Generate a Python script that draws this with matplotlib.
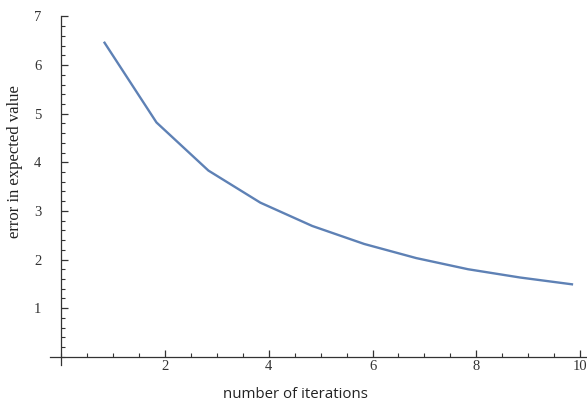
import matplotlib
matplotlib.use("Agg")
import matplotlib.pyplot as plt
from matplotlib.ticker import MultipleLocator

# data
iterations = [0.84, 1.84, 2.84, 3.84, 4.84, 5.84, 6.84, 7.84, 8.84, 9.84]
error = [6.46, 4.82, 3.83, 3.17, 2.69, 2.32, 2.03, 1.80, 1.63, 1.49]
x_ticks = [2, 4, 6, 8, 10]
y_ticks = [1, 2, 3, 4, 5, 6, 7]

fig = plt.figure(figsize=(5.87, 4.03), dpi=100)
ax = fig.add_axes([0.0852, 0.0943, 0.9148, 0.8648])

ax.plot(iterations, error, color="#5E81B5", lw=1.7, solid_joinstyle="round")

ax.set_xlim(-0.21, 10.13)
ax.set_ylim(-0.17, 7.0)

for s in ["top", "right"]:
    ax.spines[s].set_visible(False)
ax.spines["left"].set_position(("data", 0))
ax.spines["bottom"].set_position(("data", 0))
for s in ["left", "bottom"]:
    ax.spines[s].set_color("#333333")
    ax.spines[s].set_linewidth(0.9)

ax.set_xticks(x_ticks)
ax.set_yticks(y_ticks)
ax.xaxis.set_minor_locator(MultipleLocator(0.5))
ax.yaxis.set_minor_locator(MultipleLocator(0.2))

serif = ["Liberation Serif", "DejaVu Serif"]
ax.tick_params(axis="both", which="major", direction="in", length=5.3, width=0.9,
               color="#333333", labelcolor="#333333")
ax.tick_params(axis="both", which="minor", direction="in", length=3.2, width=0.8,
               color="#333333")
ax.tick_params(axis="x", which="major", pad=2.5)
ax.tick_params(axis="y", which="major", pad=14)
for lab in ax.get_xticklabels() + ax.get_yticklabels():
    lab.set_family(serif)
    lab.set_fontsize(10.5)

fig.text(0.026, 0.60, "error in expected value", rotation=90, ha="center", va="center",
         family=serif, fontsize=12, color="#222222")
fig.text(0.503, 0.02, "number of iterations", ha="center", va="center",
         family=["Open Sans", "DejaVu Sans"], fontsize=10.8, color="#222222")

fig.savefig("out.png", dpi=100)
